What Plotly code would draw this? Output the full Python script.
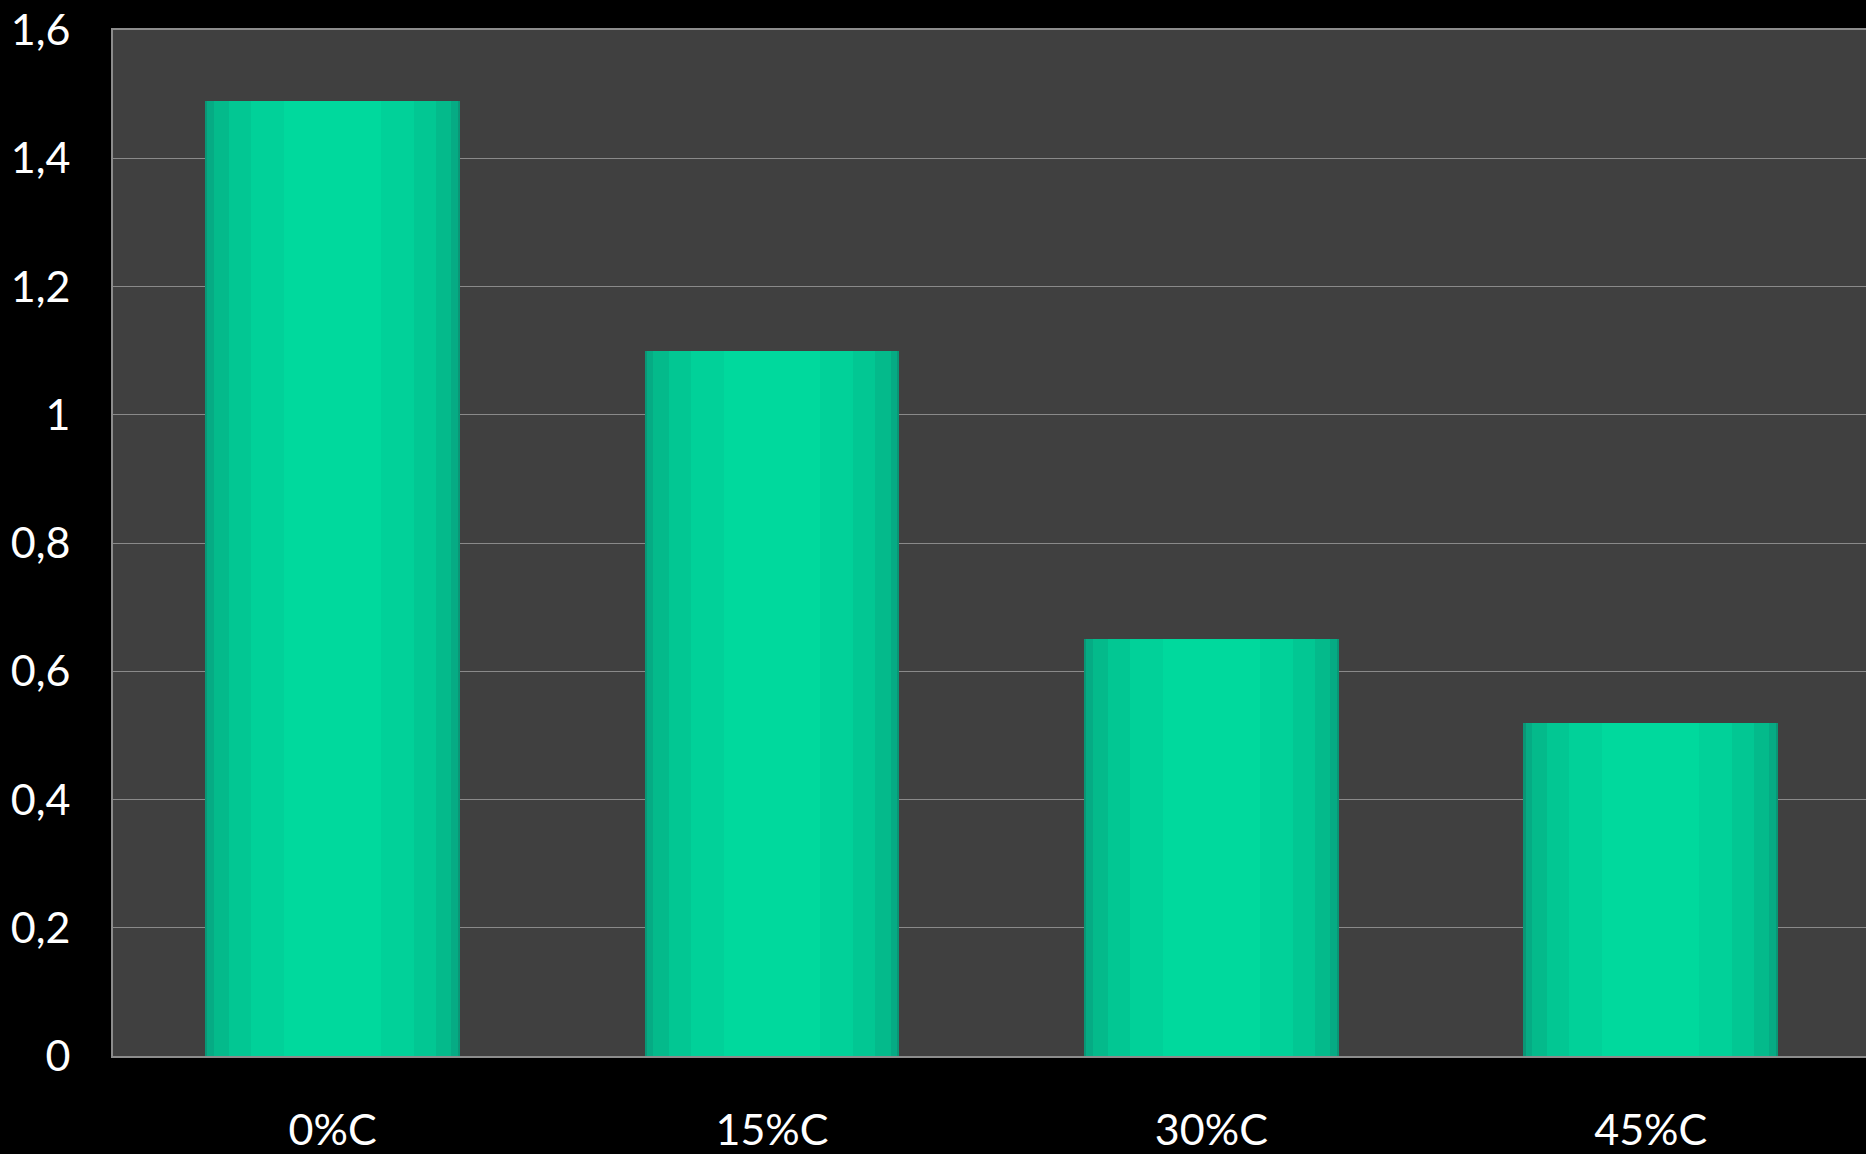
import plotly.graph_objects as go

categories = ["0%C", "15%C", "30%C", "45%C"]
values = [1.49, 1.10, 0.65, 0.52]
ytick_vals = [0, 0.2, 0.4, 0.6, 0.8, 1.0, 1.2, 1.4, 1.6]
ytick_text = ["0", "0,2", "0,4", "0,6", "0,8", "1", "1,2", "1,4", "1,6"]

# layered bars to imitate the cylinder-like horizontal shading
layers = [
    (0.58, "#0a9676"),
    (0.57, "#06ab84"),
    (0.54, "#04ba8b"),
    (0.47, "#02c793"),
    (0.37, "#01d199"),
    (0.22, "#00d99d"),
]

fig = go.Figure()
for w, c in layers:
    fig.add_trace(go.Bar(
        x=categories, y=values, width=w,
        marker=dict(color=c, line=dict(width=0)),
        hoverinfo="skip", showlegend=False,
    ))

font = dict(family="Lato, 'Open Sans', sans-serif", size=43, color="white")

fig.update_layout(
    width=1866, height=1154,
    margin=dict(l=113, r=0, t=30, b=91),
    paper_bgcolor="black",
    plot_bgcolor="#404040",
    barmode="overlay",
    bargap=0,
    font=font,
    xaxis=dict(
        type="category",
        range=[-0.5, 3.49],
        showgrid=False,
        showline=True, linecolor="#8c8c8c", linewidth=2, mirror=True,
        ticks="", tickfont=font,
        ticklabelstandoff=35,
        zeroline=False,
    ),
    yaxis=dict(
        range=[0, 1.6],
        tickvals=ytick_vals, ticktext=ytick_text,
        showgrid=True, gridcolor="#8a8a8a", gridwidth=1,
        showline=True, linecolor="#8c8c8c", linewidth=2, mirror=False,
        ticks="", tickfont=font,
        ticklabelstandoff=32,
        zeroline=False,
    ),
)

fig.write_html(
    "out.html",
    config={"displayModeBar": False},
    post_script="document.body.style.margin='0';document.body.style.background='black';document.body.style.overflow='hidden';",
)
